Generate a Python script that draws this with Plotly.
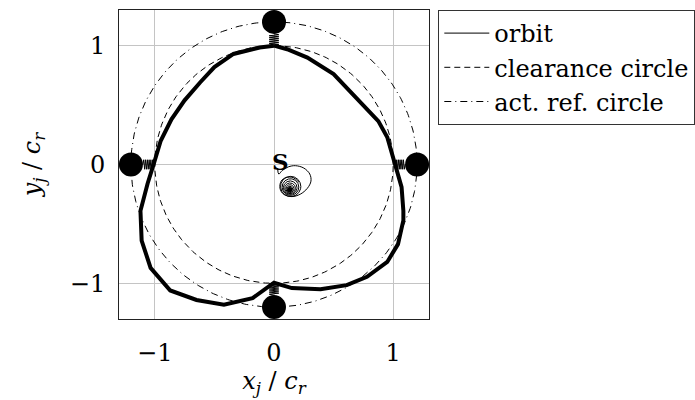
import numpy as np
import plotly.graph_objects as go

# Thick trajectory (normalised coordinates x/c_r, y/c_r)
path_x = [0.0, -0.12, -0.34, -0.50, -0.62, -0.75, -0.86, -0.95, -1.01, -1.06, -1.12,
          -1.11, -1.11, -1.035, -0.87, -0.65, -0.42, -0.18, -0.09, 0.0, 0.15, 0.39,
          0.61, 0.78, 0.95, 1.04, 1.085, 1.085, 1.07, 1.015, 0.95, 0.875, 0.72, 0.50,
          0.28, 0.11, 0.0]
path_y = [1.0, 0.985, 0.93, 0.82, 0.69, 0.54, 0.38, 0.20, 0.0, -0.16, -0.39,
          -0.55, -0.64, -0.87, -1.06, -1.14, -1.18, -1.125, -1.06, -0.995, -1.04, -1.05,
          -1.015, -0.945, -0.82, -0.67, -0.47, -0.39, -0.19, 0.0, 0.23, 0.365, 0.53, 0.76,
          0.90, 0.97, 1.0]

# Thin orbit around the start point S
orbit_x = [0.03, 0.04, 0.07, 0.12, 0.18, 0.25, 0.30, 0.31, 0.28, 0.22, 0.15, 0.08, 0.05, 0.06, 0.10, 0.16, 0.21]
orbit_y = [-0.03, -0.08, -0.05, -0.02, -0.01, -0.03, -0.08, -0.14, -0.20, -0.25, -0.27, -0.25, -0.20, -0.14, -0.11, -0.11, -0.15]
# Decaying loops of the orbit: centres and radii
loop_cx = [0.140, 0.138, 0.136, 0.135, 0.134, 0.133, 0.132]
loop_cy = [-0.185, -0.190, -0.195, -0.200, -0.204, -0.207, -0.210]
loop_r = [0.085, 0.070, 0.057, 0.045, 0.034, 0.024, 0.015]
start_label = "S"
start_pos = (0.055, 0.025)

# Circles
clearance_r = 1.0
act_ref_r = 1.2

# Magnets on the actuator reference circle and spring attachment radii on the path
magnet_angles_deg = [90, 180, 270, 0]
spring_end_r = [1.0, 1.01, 0.995, 1.015]
magnet_r = 0.1

tick_vals = [-1, 0, 1]
tick_text = ["\u22121", "0", "1"]

FONT = "DejaVu Serif"

fig = go.Figure()

th = np.linspace(0, 2 * np.pi, 361)

fig.add_trace(go.Scatter(
    x=orbit_x, y=orbit_y, mode="lines", name="orbit",
    line=dict(color="black", width=1, shape="spline", smoothing=1.0),
))
fig.add_trace(go.Scatter(
    x=clearance_r * np.cos(th), y=clearance_r * np.sin(th), mode="lines",
    name="clearance circle", line=dict(color="black", width=1, dash="6px,4px"),
))
fig.add_trace(go.Scatter(
    x=act_ref_r * np.cos(th), y=act_ref_r * np.sin(th), mode="lines",
    name="act. ref. circle", line=dict(color="black", width=1, dash="7px,4px,1px,4px"),
))

# Decaying loops
for cx, cy, r in zip(loop_cx, loop_cy, loop_r):
    fig.add_trace(go.Scatter(
        x=cx + r * np.cos(th), y=cy + r * np.sin(th), mode="lines",
        line=dict(color="black", width=1), showlegend=False, hoverinfo="skip",
    ))
fig.add_trace(go.Scatter(
    x=[loop_cx[-1]], y=[loop_cy[-1]], mode="markers",
    marker=dict(color="black", size=5), showlegend=False, hoverinfo="skip",
))

# Thick path
fig.add_trace(go.Scatter(
    x=path_x, y=path_y, mode="lines", showlegend=False,
    line=dict(color="black", width=4),
))

# Springs between magnets and path
n_half = 12
amp = 0.04
for ang, r_end in zip(magnet_angles_deg, spring_end_r):
    a = np.radians(ang)
    ux, uy = np.cos(a), np.sin(a)
    px_, py_ = -uy, ux
    r0 = act_ref_r - magnet_r
    rs = np.linspace(r0, r_end, n_half + 1)
    side = np.array([0] + [(-1) ** k for k in range(1, n_half)] + [0])
    sx = rs * ux + side * amp * px_
    sy = rs * uy + side * amp * py_
    fig.add_trace(go.Scatter(
        x=sx, y=sy, mode="lines", line=dict(color="black", width=1),
        showlegend=False, hoverinfo="skip",
    ))

# Magnets
mx = [act_ref_r * np.cos(np.radians(a)) for a in magnet_angles_deg]
my = [act_ref_r * np.sin(np.radians(a)) for a in magnet_angles_deg]
fig.add_trace(go.Scatter(
    x=mx, y=my, mode="markers", showlegend=False,
    marker=dict(color="black", size=24, line=dict(width=0)),
    cliponaxis=False,
))

fig.add_annotation(
    x=start_pos[0], y=start_pos[1], text="<b>" + start_label + "</b>",
    showarrow=False, font=dict(family=FONT, size=23, color="black"),
    xanchor="center", yanchor="middle",
)

axis_common = dict(
    range=[-1.3, 1.3], tickvals=tick_vals, ticktext=tick_text,
    showgrid=True, gridcolor="#c4c4c4", gridwidth=1, zeroline=False,
    showline=True, linecolor="#222222", linewidth=1, mirror=True,
    ticks="", tickfont=dict(family=FONT, size=24, color="black"),
)

fig.update_layout(
    width=695, height=400,
    margin=dict(l=119, r=266, t=10, b=81, autoexpand=False),
    plot_bgcolor="white", paper_bgcolor="white",
    xaxis=dict(**axis_common, ticklabelstandoff=12,
               title=dict(text="<i>x<sub>j</sub></i> / <i>c<sub>r</sub></i>",
                          font=dict(family=FONT, size=24, color="black"), standoff=2)),
    yaxis=dict(**axis_common, ticklabelstandoff=8,
               title=dict(text="<i>y<sub>j</sub></i> / <i>c<sub>r</sub></i>",
                          font=dict(family=FONT, size=24, color="black"), standoff=22)),
    legend=dict(
        x=1.03, y=1.0, xanchor="left", yanchor="top",
        bordercolor="#333333", borderwidth=1, bgcolor="white",
        font=dict(family=FONT, size=24, color="black"),
        tracegroupgap=0, itemwidth=45,
    ),
    showlegend=True,
)

fig.write_html("out.html")
